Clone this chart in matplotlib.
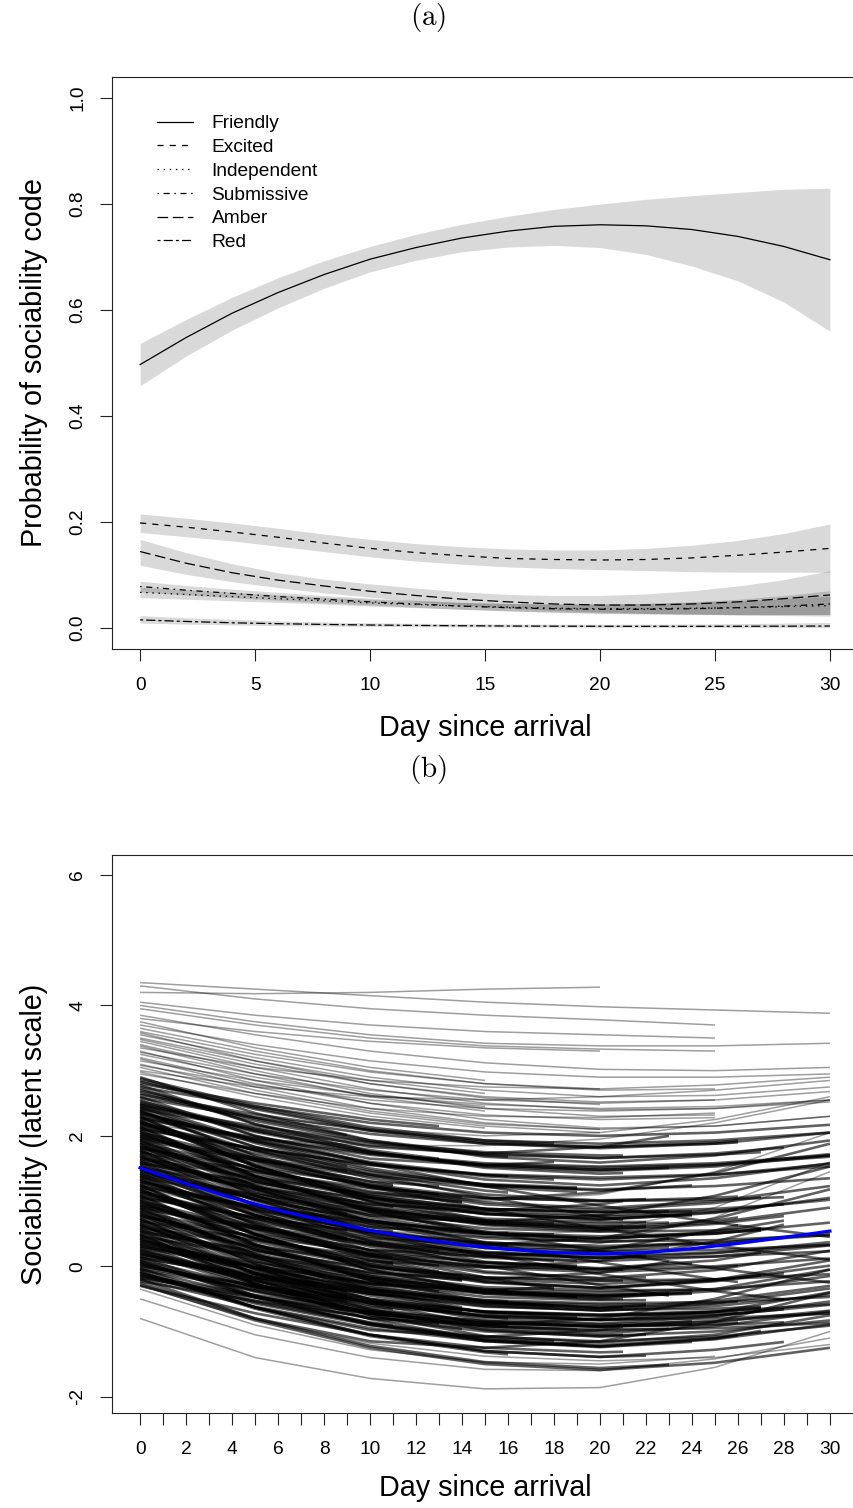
import matplotlib
matplotlib.use("Agg")
import matplotlib.pyplot as plt

plt.rcParams['font.family'] = ['Liberation Sans', 'DejaVu Sans']
plt.rcParams['mathtext.fontset'] = 'cm'
plt.rcParams['lines.scale_dashes'] = False

# ---------------- Panel (a) data ----------------
days_a = [0, 2, 4, 6, 8, 10, 12, 14, 16, 18, 20, 22, 24, 26, 28, 30]

friendly = [0.497, 0.548, 0.594, 0.633, 0.667, 0.696, 0.718, 0.736, 0.749, 0.758, 0.761, 0.759, 0.752, 0.739, 0.720, 0.695]
friendly_lo = [0.457, 0.513, 0.562, 0.604, 0.641, 0.672, 0.694, 0.710, 0.719, 0.722, 0.718, 0.705, 0.683, 0.655, 0.615, 0.560]
friendly_hi = [0.537, 0.582, 0.624, 0.661, 0.693, 0.720, 0.743, 0.762, 0.777, 0.790, 0.800, 0.809, 0.816, 0.822, 0.828, 0.830]

excited = [0.198, 0.190, 0.181, 0.171, 0.160, 0.150, 0.142, 0.136, 0.131, 0.129, 0.128, 0.129, 0.132, 0.137, 0.143, 0.150]
excited_lo = [0.180, 0.172, 0.164, 0.154, 0.144, 0.134, 0.126, 0.120, 0.115, 0.112, 0.110, 0.108, 0.106, 0.105, 0.105, 0.105]
excited_hi = [0.215, 0.207, 0.198, 0.188, 0.177, 0.167, 0.159, 0.153, 0.149, 0.147, 0.147, 0.150, 0.156, 0.165, 0.178, 0.196]

independent = [0.067, 0.063, 0.059, 0.055, 0.051, 0.047, 0.044, 0.041, 0.039, 0.037, 0.036, 0.036, 0.037, 0.038, 0.040, 0.042]
independent_lo = [0.057, 0.054, 0.051, 0.048, 0.045, 0.041, 0.038, 0.035, 0.032, 0.030, 0.028, 0.027, 0.026, 0.025, 0.025, 0.025]
independent_hi = [0.077, 0.072, 0.067, 0.062, 0.058, 0.054, 0.051, 0.048, 0.046, 0.045, 0.045, 0.046, 0.048, 0.051, 0.055, 0.060]

submissive = [0.078, 0.071, 0.065, 0.059, 0.054, 0.049, 0.045, 0.041, 0.038, 0.036, 0.035, 0.035, 0.036, 0.038, 0.041, 0.045]
submissive_lo = [0.068, 0.062, 0.057, 0.052, 0.047, 0.043, 0.039, 0.035, 0.032, 0.029, 0.027, 0.026, 0.025, 0.025, 0.025, 0.025]
submissive_hi = [0.088, 0.080, 0.073, 0.067, 0.061, 0.056, 0.052, 0.048, 0.046, 0.045, 0.045, 0.046, 0.049, 0.054, 0.061, 0.070]

amber = [0.144, 0.122, 0.104, 0.090, 0.079, 0.069, 0.061, 0.054, 0.049, 0.045, 0.043, 0.043, 0.045, 0.049, 0.055, 0.062]
amber_lo = [0.118, 0.101, 0.087, 0.076, 0.066, 0.058, 0.050, 0.043, 0.037, 0.033, 0.030, 0.027, 0.026, 0.024, 0.023, 0.022]
amber_hi = [0.167, 0.142, 0.121, 0.104, 0.092, 0.083, 0.075, 0.068, 0.063, 0.061, 0.061, 0.064, 0.070, 0.079, 0.091, 0.108]

red = [0.015, 0.012, 0.0095, 0.0078, 0.0064, 0.0053, 0.0045, 0.0039, 0.0034, 0.0031, 0.0029, 0.0028, 0.0028, 0.0029, 0.0031, 0.0034]
red_lo = [0.009, 0.007, 0.0055, 0.0043, 0.0034, 0.0027, 0.0021, 0.0017, 0.0014, 0.0012, 0.0010, 0.0009, 0.0008, 0.0007, 0.0006, 0.0005]
red_hi = [0.023, 0.019, 0.016, 0.013, 0.011, 0.0095, 0.0085, 0.0078, 0.0072, 0.0069, 0.0068, 0.0069, 0.0072, 0.0078, 0.0088, 0.010]

codes = ["Friendly", "Excited", "Independent", "Submissive", "Amber", "Red"]

# ---------------- Panel (b) data ----------------
traj_days = [0, 5, 10, 15, 20, 25, 30]

# individually visible trajectories (upper fringe, right fan, lower outliers); all run on the 5-day grid
traj_outer = [
    [4.35, 4.25, 4.15, 4.05, 3.98, 3.93, 3.88],
    [4.30, 4.10, 3.95, 3.85, 3.78, 3.70],
    [4.20, 4.18, 4.20, 4.25, 4.28],
    [4.05, 3.85, 3.70, 3.60, 3.55, 3.50],
    [4.00, 3.75, 3.55, 3.42, 3.38, 3.38, 3.42],
    [3.95, 3.70, 3.50, 3.38, 3.33, 3.30],
    [3.85, 3.55, 3.30, 3.12, 3.02, 3.00, 3.05],
    [3.80, 3.60, 3.45, 3.35, 3.30],
    [3.75, 3.35, 3.05, 2.85],
    [3.70, 3.40, 3.15, 2.98, 2.90, 2.90, 2.95],
    [3.65, 3.30, 3.00, 2.80, 2.70, 2.72],
    [3.60, 3.25, 2.98, 2.80, 2.72],
    [3.58, 3.15, 2.80, 2.58, 2.48],
    [3.55, 3.20, 2.90, 2.70, 2.60, 2.62, 2.75],
    [3.50, 3.15, 2.85, 2.65],
    [3.48, 3.10, 2.80, 2.60, 2.52, 2.55, 2.68],
    [3.45, 3.05, 2.72, 2.50, 2.40, 2.42, 2.55],
    [3.40, 3.00, 2.65, 2.42, 2.30, 2.32],
    [3.38, 2.95, 2.60, 2.38],
    [3.35, 3.05, 2.85, 2.75, 2.72, 2.78, 2.90],
    [3.30, 2.85, 2.50, 2.25, 2.12, 2.15, 2.30],
    [3.28, 2.95, 2.70, 2.55, 2.50, 2.55],
    [3.25, 2.90, 2.62, 2.45],
    [3.20, 2.80, 2.50, 2.32, 2.25, 2.28],
    [3.18, 2.75, 2.42, 2.20, 2.10],
    [3.15, 2.85, 2.62, 2.48, 2.42, 2.45, 2.55],
    [3.10, 2.70, 2.38, 2.18, 2.10, 2.15, 2.30],
    [3.08, 2.78, 2.55, 2.42, 2.38, 2.42, 2.52],
    [3.05, 2.65, 2.35, 2.15, 2.05],
    [3.00, 2.75, 2.60, 2.55, 2.60, 2.70, 2.85],
    [2.98, 2.60, 2.30, 2.12],
    [2.95, 2.65, 2.42, 2.30, 2.28, 2.35],
    [2.60, 2.30, 2.10, 2.00, 2.05, 2.25, 2.60],
    [2.20, 1.95, 1.85, 1.85, 1.95, 2.20, 2.55],
    [1.80, 1.40, 1.10, 1.00, 1.10, 1.45, 2.05],
    [0.90, 0.50, 0.25, 0.20, 0.35, 0.75, 1.45],
    [1.20, 0.80, 0.55, 0.45, 0.55, 0.90, 1.60],
    [-0.30, -0.82, -1.18, -1.38, -1.45, -1.40, -1.20],
    [-0.35, -0.90, -1.28, -1.47, -1.50, -1.38],
    [-0.50, -1.05, -1.40, -1.58, -1.60, -1.42, -1.10],
    [-0.80, -1.40, -1.72, -1.88, -1.86, -1.55, -1.00],
]

# the dense bulk of trajectories: values on the 5-day grid up to the last day seen,
# with the final value at that last day (traj_core_end)
traj_core = [
    [2.90, 2.35, 1.93, 1.68, 1.59, 1.70, 1.93],
    [2.88, 2.46, 2.13, 1.93, 1.88],
    [2.85, 2.43, 2.10, 1.90, 1.83, 1.90, 1.93],
    [2.83, 2.41, 2.08, 1.88, 1.81, 1.88, 2.05],
    [2.80, 2.50, 2.25, 2.15],
    [2.78, 2.18, 1.83, 1.73, 1.83, 2.00],
    [2.75, 2.45, 2.20, 2.05, 2.00, 2.05, 2.17],
    [2.73, 2.18, 1.76, 1.51, 1.42, 1.43],
    [2.70, 2.28, 2.01],
    [2.68, 2.26, 1.93, 1.73, 1.66, 1.73, 1.82],
    [2.65, 2.23, 1.90, 1.70, 1.68],
    [2.63, 2.33, 2.08, 1.93, 1.88, 1.93, 2.05],
    [2.60, 2.00, 1.65, 1.55, 1.60],
    [2.58, 2.28, 2.03, 1.88, 1.83, 1.88, 1.90],
    [2.55, 2.00, 1.58, 1.33, 1.24, 1.35, 1.58],
    [2.53, 2.11, 1.78, 1.65],
    [2.50, 2.08, 1.75, 1.55, 1.48, 1.51],
    [2.48, 2.06, 1.73, 1.53, 1.46, 1.53, 1.70],
    [2.45, 2.15, 1.90, 1.75, 1.70, 1.70],
    [2.43, 1.83, 1.54],
    [2.40, 1.70, 1.25, 1.05, 1.00, 1.02, 1.06],
    [2.38, 1.83, 1.41, 1.16, 1.13],
    [2.35, 1.95, 1.57, 1.23, 0.93, 0.67, 0.45],
    [2.33, 1.91, 1.58, 1.38, 1.33],
    [2.30, 1.55, 1.00, 0.68, 0.58, 0.70, 0.75],
    [2.28, 1.98, 1.73, 1.58, 1.53, 1.58, 1.70],
    [2.25, 1.65, 1.30, 1.23],
    [2.23, 1.53, 1.08, 0.88, 0.83, 0.84],
    [2.20, 1.65, 1.23, 0.98, 0.89, 1.00, 1.23],
    [2.18, 1.78, 1.40, 1.06, 0.76, 0.71],
    [2.15, 1.73, 1.46],
    [2.13, 1.38, 0.83, 0.51, 0.41, 0.53, 0.70],
    [2.10, 1.80, 1.55, 1.40, 1.38],
    [2.08, 1.48, 1.13, 1.03, 1.13, 1.43, 1.88],
    [2.05, 1.35, 0.90, 0.70, 0.66],
    [2.03, 1.48, 1.06, 0.81, 0.72, 0.83, 0.87],
    [2.00, 1.60, 1.22, 0.88, 0.58, 0.32, 0.10],
    [1.98, 1.56, 1.23, 1.10],
    [1.95, 1.20, 0.65, 0.33, 0.23, 0.29],
    [1.93, 1.63, 1.38, 1.23, 1.18, 1.23, 1.35],
    [1.90, 1.30, 0.95, 0.85, 0.95, 1.00],
    [1.88, 1.18, 0.80],
    [1.85, 1.30, 0.88, 0.63, 0.54, 0.65, 0.77],
    [1.83, 1.43, 1.05, 0.71, 0.65],
    [1.80, 1.38, 1.05, 0.85, 0.78, 0.85, 1.02],
    [1.78, 1.03, 0.48, 0.16, 0.08],
    [1.75, 1.45, 1.20, 1.05, 1.00, 1.05, 1.07],
    [1.73, 1.13, 0.78, 0.68, 0.78, 1.08, 1.53],
    [1.70, 1.00, 0.55, 0.41],
    [1.68, 1.13, 0.71, 0.46, 0.37, 0.42],
    [1.65, 1.25, 0.87, 0.53, 0.23, -0.03, -0.25],
    [1.63, 1.21, 0.88, 0.68, 0.61, 0.62],
    [1.60, 0.85, 0.40],
    [1.58, 1.28, 1.03, 0.88, 0.83, 0.88, 0.95],
    [1.55, 0.95, 0.60, 0.50, 0.51],
    [1.53, 0.83, 0.38, 0.18, 0.13, 0.15, 0.23],
    [1.50, 0.95, 0.53, 0.28, 0.21],
    [1.48, 1.08, 0.70, 0.36, 0.06, -0.20, -0.24],
    [1.45, 1.03, 0.70, 0.50, 0.43, 0.50, 0.67],
    [1.43, 0.68, 0.13, -0.08],
    [1.40, 1.10, 0.85, 0.70, 0.65, 0.67],
    [1.38, 0.78, 0.43, 0.33, 0.43, 0.73, 1.18],
    [1.35, 0.65, 0.20, 0.00, -0.05, -0.05],
    [1.33, 0.78, 0.43],
    [1.30, 0.90, 0.52, 0.18, -0.12, -0.38, -0.51],
    [1.28, 0.86, 0.53, 0.33, 0.31],
    [1.25, 0.50, -0.05, -0.37, -0.47, -0.35, -0.05],
    [1.23, 0.93, 0.68, 0.53, 0.49],
    [1.20, 0.60, 0.25, 0.15, 0.25, 0.55, 0.63],
    [1.18, 0.48, 0.03, -0.17, -0.22, -0.20, -0.12],
    [1.15, 0.60, 0.18, 0.01],
    [1.13, 0.73, 0.35, 0.01, -0.29, -0.45],
    [1.10, 0.68, 0.35, 0.15, 0.08, 0.15, 0.32],
    [1.08, 0.33, -0.22, -0.54, -0.64, -0.63],
    [1.05, 0.75, 0.55],
    [1.03, 0.43, 0.08, -0.02, 0.08, 0.38, 0.64],
    [1.00, 0.30, -0.15, -0.35, -0.37],
    [0.98, 0.43, 0.01, -0.24, -0.33, -0.22, 0.01],
    [0.95, 0.55, 0.17, -0.17, -0.35],
    [0.93, 0.51, 0.18, -0.02, -0.09, -0.02, 0.01],
    [0.90, 0.15, -0.40, -0.72, -0.82, -0.70, -0.40],
    [0.88, 0.58, 0.33, 0.23],
    [0.85, 0.25, -0.10, -0.20, -0.10, 0.07],
    [0.83, 0.13, -0.32, -0.52, -0.57, -0.55, -0.47],
    [0.80, 0.25, -0.17, -0.42, -0.51, -0.50],
    [0.78, 0.38, 0.08],
    [0.75, 0.33, 0.00, -0.20, -0.27, -0.20, -0.11],
    [0.73, -0.02, -0.57, -0.89, -0.92],
    [0.70, 0.40, 0.15, 0.00, -0.05, 0.00, 0.12],
    [0.68, 0.08, -0.27, -0.37, -0.32],
    [0.65, -0.05, -0.50, -0.70, -0.75, -0.73, -0.71],
    [0.63, 0.08, -0.34, -0.59, -0.68, -0.57, -0.34],
    [0.60, 0.20, -0.18, -0.39],
    [0.58, 0.16, -0.17, -0.37, -0.44, -0.41],
    [0.55, -0.20, -0.75, -1.07, -1.17, -1.05, -0.75],
    [0.53, 0.23, -0.02, -0.17, -0.22, -0.22],
    [0.50, -0.10, -0.39],
    [0.48, -0.22, -0.67, -0.87, -0.92, -0.90, -0.86],
    [0.45, -0.10, -0.52, -0.77, -0.80],
    [0.43, -0.12, -0.54, -0.79, -0.88, -0.77, -0.54],
    [0.40, -0.02, -0.35, -0.55, -0.60],
    [0.38, -0.04, -0.37, -0.57, -0.64, -0.57, -0.54],
    [0.35, 0.05, -0.20, -0.35, -0.40, -0.35, -0.23],
    [0.33, -0.27, -0.62, -0.69],
    [0.30, 0.00, -0.25, -0.40, -0.45, -0.43],
    [0.28, -0.27, -0.69, -0.94, -1.03, -0.92, -0.69],
    [0.25, -0.30, -0.72, -0.97, -1.06, -1.05],
    [0.23, -0.19, -0.46],
    [0.20, -0.22, -0.55, -0.75, -0.82, -0.75, -0.66],
    [0.18, -0.12, -0.37, -0.52, -0.54],
    [0.15, -0.45, -0.80, -0.90, -0.80, -0.50, -0.05],
    [0.13, -0.17, -0.42, -0.57, -0.61],
    [0.10, -0.45, -0.87, -1.12, -1.21, -1.10, -1.06],
    [0.08, -0.47, -0.89, -1.14, -1.23, -1.12, -0.89],
    [0.05, -0.37, -0.70, -0.83],
    [0.03, -0.39, -0.72, -0.92, -0.99, -0.96],
    [0.00, -0.30, -0.55, -0.70, -0.75, -0.70, -0.58],
    [-0.03, -0.63, -0.98, -1.08, -0.98, -0.93],
    [-0.05, -0.35, -0.55],
    [-0.08, -0.63, -1.05, -1.30, -1.39, -1.28, -1.16],
    [-0.10, -0.65, -1.07, -1.32, -1.35],
    [-0.13, -0.55, -0.88, -1.08, -1.15, -1.08, -0.91],
    [-0.15, -0.57, -0.90, -1.10, -1.15],
    [-0.18, -0.48, -0.73, -0.88, -0.93, -0.88, -0.86],
    [-0.20, -0.80, -1.15, -1.25, -1.15, -0.85, -0.40],
    [-0.23, -0.53, -0.78, -0.88],
    [-0.25, -0.80, -1.22, -1.47, -1.56, -1.51],
    [-0.28, -0.83, -1.25, -1.50, -1.59, -1.48, -1.25],
    [-0.30, -0.72, -1.05, -1.25, -1.32, -1.31],
]
traj_core_end = [30, 18, 26, 30, 13, 23, 30, 21, 9, 28, 16] * 11 + [30, 18, 26, 30, 13, 23, 30, 21]

# a second batch of bulk trajectories (same layout, last day in traj_core2_end)
traj_core2 = [
    [2.50, 2.08, 1.75, 1.55, 1.48, 1.55, 1.72],
    [2.47, 1.92, 1.50, 1.25, 1.16, 1.24],
    [2.44, 1.89, 1.47, 1.22, 1.14],
    [2.41, 2.11, 1.86, 1.71, 1.66, 1.71, 1.75],
    [2.38, 1.68, 1.23, 1.06],
    [2.35, 1.93, 1.60, 1.40, 1.33, 1.40, 1.57],
    [2.32, 1.77, 1.35, 1.10, 1.01, 1.03],
    [2.29, 1.54, 0.99, 0.91],
    [2.26, 1.96, 1.71, 1.56, 1.51, 1.56, 1.68],
    [2.23, 1.53, 1.08, 0.88, 0.83, 0.84],
    [2.20, 1.78, 1.45, 1.25, 1.19],
    [2.17, 1.62, 1.20, 0.95, 0.86, 0.97, 1.06],
    [2.14, 1.39, 0.84, 0.57],
    [2.11, 1.81, 1.56, 1.41, 1.36, 1.41, 1.53],
    [2.08, 1.38, 0.93, 0.73, 0.68, 0.68],
    [2.05, 1.63, 1.30, 1.25],
    [2.02, 1.47, 1.05, 0.80, 0.71, 0.82, 1.05],
    [1.99, 1.24, 0.69, 0.37, 0.27, 0.36],
    [1.96, 1.66, 1.41, 1.26, 1.21],
    [1.93, 1.23, 0.78, 0.58, 0.53, 0.55, 0.58],
    [1.90, 1.48, 1.15, 0.98],
    [1.87, 1.32, 0.90, 0.65, 0.56, 0.67, 0.90],
    [1.84, 1.09, 0.54, 0.22, 0.12, 0.15],
    [1.81, 1.51, 1.26, 1.23],
    [1.78, 1.08, 0.63, 0.43, 0.38, 0.40, 0.48],
    [1.75, 1.33, 1.00, 0.80, 0.73, 0.78],
    [1.72, 1.17, 0.75, 0.50, 0.42],
    [1.69, 0.94, 0.39, 0.07, -0.03, 0.09, 0.21],
    [1.66, 1.36, 1.11, 0.99],
    [1.63, 0.93, 0.48, 0.28, 0.23, 0.25, 0.33],
    [1.60, 1.18, 0.85, 0.65, 0.58, 0.60],
    [1.57, 1.02, 0.60, 0.54],
    [1.54, 0.79, 0.24, -0.08, -0.18, -0.06, 0.24],
    [1.51, 1.21, 0.96, 0.81, 0.76, 0.79],
    [1.48, 0.78, 0.33, 0.13, 0.08],
    [1.45, 1.03, 0.70, 0.50, 0.43, 0.50, 0.57],
    [1.42, 0.87, 0.45, 0.24],
    [1.39, 0.64, 0.09, -0.23, -0.33, -0.21, 0.09],
    [1.36, 1.06, 0.81, 0.66, 0.61, 0.62],
    [1.33, 0.63, 0.18, 0.14],
    [1.30, 0.88, 0.55, 0.35, 0.28, 0.35, 0.52],
    [1.27, 0.72, 0.30, 0.05, -0.04, 0.04],
    [1.24, 0.49, -0.06, -0.38, -0.47],
    [1.21, 0.91, 0.66, 0.51, 0.46, 0.51, 0.55],
    [1.18, 0.48, 0.03, -0.14],
    [1.15, 0.73, 0.40, 0.20, 0.13, 0.20, 0.37],
    [1.12, 0.57, 0.15, -0.10, -0.19, -0.17],
    [1.09, 0.34, -0.21, -0.29],
    [1.06, 0.76, 0.51, 0.36, 0.31, 0.36, 0.48],
    [1.03, 0.33, -0.12, -0.32, -0.37, -0.36],
    [1.00, 0.58, 0.25, 0.05, -0.01],
    [0.97, 0.42, 0.00, -0.25, -0.34, -0.23, -0.14],
    [0.94, 0.19, -0.36, -0.63],
    [0.91, 0.61, 0.36, 0.21, 0.16, 0.21, 0.33],
    [0.88, 0.18, -0.27, -0.47, -0.52, -0.52],
    [0.85, 0.43, 0.10, 0.05],
    [0.82, 0.27, -0.15, -0.40, -0.49, -0.38, -0.15],
    [0.79, 0.04, -0.51, -0.83, -0.93, -0.84],
    [0.76, 0.46, 0.21, 0.06, 0.01],
    [0.73, 0.03, -0.42, -0.62, -0.67, -0.65, -0.62],
    [0.70, 0.28, -0.05, -0.22],
    [0.67, 0.12, -0.30, -0.55, -0.64, -0.53, -0.30],
    [0.64, -0.11, -0.66, -0.98, -1.08, -1.05],
    [0.61, 0.31, 0.06, 0.03],
    [0.58, -0.12, -0.57, -0.77, -0.82, -0.80, -0.72],
    [0.55, 0.13, -0.20, -0.40, -0.47, -0.42],
    [0.52, -0.03, -0.45, -0.70, -0.78],
    [0.49, -0.26, -0.81, -1.13, -1.23, -1.11, -0.99],
    [0.46, 0.16, -0.09, -0.21],
    [0.43, -0.27, -0.72, -0.92, -0.97, -0.95, -0.87],
    [0.40, -0.02, -0.35, -0.55, -0.62, -0.60],
    [0.37, -0.18, -0.60, -0.66],
    [0.34, -0.08, -0.41, -0.61, -0.68, -0.61, -0.44],
    [0.31, 0.01, -0.24, -0.39, -0.44, -0.41],
    [0.28, -0.02, -0.27, -0.42, -0.47],
    [0.25, -0.17, -0.50, -0.70, -0.77, -0.70, -0.63],
    [0.22, -0.33, -0.75, -0.96],
    [0.19, -0.23, -0.56, -0.76, -0.83, -0.76, -0.59],
    [0.16, -0.14, -0.39, -0.54, -0.59, -0.58],
    [0.13, -0.17, -0.42, -0.45],
    [0.10, -0.32, -0.65, -0.85, -0.92, -0.85, -0.68],
    [0.07, -0.48, -0.90, -1.15, -1.24, -1.16],
    [0.04, -0.38, -0.71, -0.91, -0.97],
    [0.01, -0.29, -0.54, -0.69, -0.74, -0.69, -0.65],
    [-0.02, -0.32, -0.57, -0.69],
    [-0.05, -0.47, -0.80, -1.00, -1.07, -1.00, -0.83],
    [-0.08, -0.63, -1.05, -1.30, -1.39, -1.37],
    [-0.11, -0.53, -0.86, -0.91],
    [-0.14, -0.44, -0.69, -0.84, -0.89, -0.84, -0.72],
    [-0.17, -0.47, -0.72, -0.87, -0.92, -0.89],
    [-0.20, -0.62, -0.95, -1.15, -1.21],
]
traj_core2_end = [30, 24, 19, 27, 14, 30, 22, 11] * 11 + [30, 24, 19]

mean_days = [0, 2, 4, 6, 8, 10, 12, 14, 16, 18, 20, 22, 24, 26, 28, 30]
mean_traj = [1.51, 1.27, 1.05, 0.86, 0.70, 0.55, 0.43, 0.33, 0.26, 0.21, 0.19, 0.21, 0.27, 0.35, 0.44, 0.54]

xticks_a = [0, 5, 10, 15, 20, 25, 30]
yticks_a = [0.0, 0.2, 0.4, 0.6, 0.8, 1.0]
yticklabels_a = ["0.0", "0.2", "0.4", "0.6", "0.8", "1.0"]
xticks_b = list(range(0, 31))
xticklabels_b = [str(d) if d % 2 == 0 else "" for d in xticks_b]
yticks_b = [-2, 0, 2, 4, 6]

# ---------------- Figure ----------------
W, H = 854, 1508
fig = plt.figure(figsize=(W / 100, H / 100), dpi=100)


def px_axes(left, top, right, bottom):
    return fig.add_axes([left / W, 1 - bottom / H, (right - left) / W, (bottom - top) / H])


axA = px_axes(112.5, 77, 857.5, 649)
axB = px_axes(112.5, 855, 857.5, 1413)

TICK_FS = 13.8
LAB_FS = 20.7

for ax in (axA, axB):
    for sp in ax.spines.values():
        sp.set_linewidth(0.8)
        sp.set_color('#222222')
    ax.tick_params(direction='out', length=8.4, width=0.8, labelsize=TICK_FS, color='#222222')
    ax.tick_params(axis='x', pad=11.5)
    ax.tick_params(axis='y', pad=10.5, labelrotation=90)

u = 1.1
styles = {
    "Friendly": dict(linestyle='-'),
    "Excited": dict(dashes=(4 * u, 4 * u)),
    "Independent": dict(dashes=(1 * u, 3 * u)),
    "Submissive": dict(dashes=(1 * u, 3 * u, 4 * u, 3 * u)),
    "Amber": dict(dashes=(7 * u, 3 * u)),
    "Red": dict(dashes=(2 * u, 2 * u, 6 * u, 2 * u)),
}
series = {
    "Friendly": (friendly, friendly_lo, friendly_hi),
    "Excited": (excited, excited_lo, excited_hi),
    "Independent": (independent, independent_lo, independent_hi),
    "Submissive": (submissive, submissive_lo, submissive_hi),
    "Amber": (amber, amber_lo, amber_hi),
    "Red": (red, red_lo, red_hi),
}

for name in codes:
    mid, lo, hi = series[name]
    axA.fill_between(days_a, lo, hi, color='black', alpha=0.15, linewidth=0)
for name in codes:
    mid, lo, hi = series[name]
    axA.plot(days_a, mid, color='black', linewidth=0.9, label=name, **styles[name])

axA.set_xlim(-1.2, 31.2)
axA.set_ylim(-0.04, 1.04)
axA.set_xticks(xticks_a)
axA.set_xticklabels([str(v) for v in xticks_a])
axA.set_yticks(yticks_a)
axA.set_yticklabels(yticklabels_a)
for lab in axA.get_yticklabels():
    lab.set_va('center')

leg = axA.legend(loc='upper left', bbox_to_anchor=(0.0597, 0.9336), frameon=False,
                 fontsize=TICK_FS, handlelength=1.9, handletextpad=0.95,
                 labelspacing=0.33, borderpad=0, borderaxespad=0)

# panel (b)
bulk = list(zip(traj_core, traj_core_end)) + list(zip(traj_core2, traj_core2_end))
for row, end in bulk:
    days = [d for d in traj_days if d < end] + [end]
    axB.plot(days, row, color='black', alpha=0.62, linewidth=1.9,
             solid_capstyle='butt', solid_joinstyle='round')
for row in traj_outer:
    axB.plot(traj_days[:len(row)], row, color='black', alpha=0.38, linewidth=1.1,
             solid_capstyle='butt', solid_joinstyle='round')
axB.plot(mean_days, mean_traj, color='#0000FF', linewidth=2.3, zorder=5)

axB.set_xlim(-1.2, 31.2)
axB.set_ylim(-2.25, 6.307)
axB.set_xticks(xticks_b)
axB.set_xticklabels(xticklabels_b)
axB.set_yticks(yticks_b)
axB.set_yticklabels([str(v) for v in yticks_b])
for lab in axB.get_yticklabels():
    lab.set_va('center')

# titles and axis labels
fig.text(428 / W, 1 - 18 / H, r'$\mathrm{(a)}$', fontsize=21, ha='center', va='center')
fig.text(428 / W, 1 - 770 / H, r'$\mathrm{(b)}$', fontsize=21, ha='center', va='center')
fig.text(485 / W, 1 - 728 / H, "Day since arrival", fontsize=LAB_FS, ha='center', va='center')
fig.text(485 / W, 1 - 1488 / H, "Day since arrival", fontsize=LAB_FS, ha='center', va='center')
fig.text(34 / W, 1 - 363 / H, "Probability of sociability code", fontsize=LAB_FS,
         ha='center', va='center', rotation=90)
fig.text(34 / W, 1 - 1134 / H, "Sociability (latent scale)", fontsize=LAB_FS,
         ha='center', va='center', rotation=90)

fig.savefig("out.png", dpi=100)
